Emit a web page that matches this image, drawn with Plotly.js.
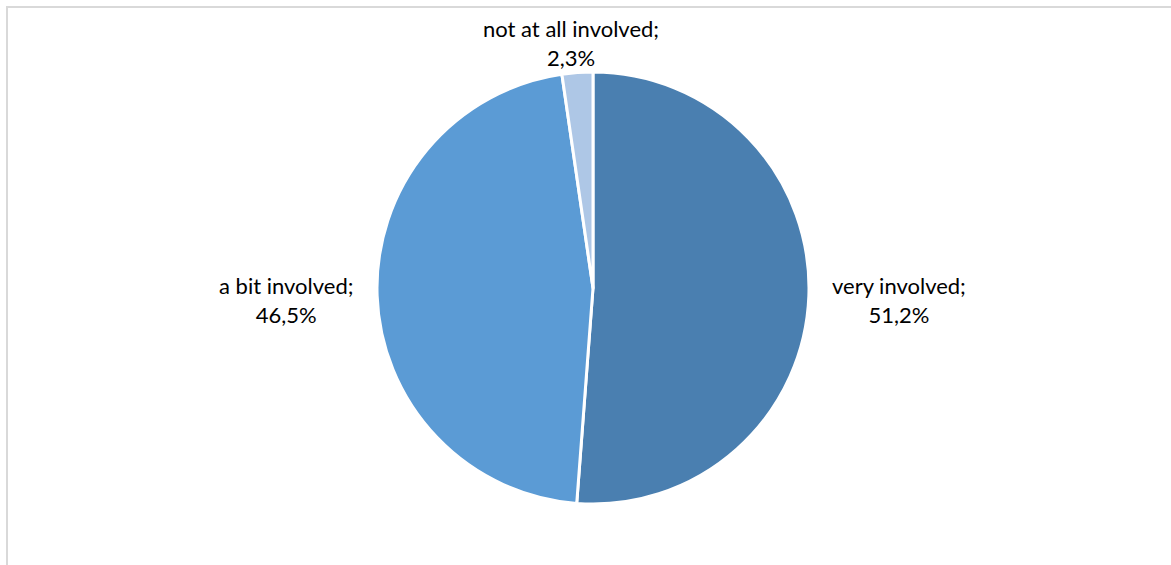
<!DOCTYPE html>
<html>
<head>
<meta charset="utf-8">
<script src="https://cdn.plot.ly/plotly-3.0.1.min.js"></script>
<style>
  html, body { margin: 0; padding: 0; background: #fff; }
  #frame { position: absolute; left: 6px; top: 6px; width: 1200px; height: 600px;
           border-left: 2px solid #d9d9d9; border-top: 2px solid #d9d9d9; }
  #chart { position: absolute; left: 0; top: 0; width: 1171px; height: 565px; }
</style>
</head>
<body>
<div id="frame"></div>
<div id="chart"></div>
<script>
const categories = ["very involved", "a bit involved", "not at all involved"];
const values = [51.2, 46.5, 2.3];
const valueLabels = ["51,2%", "46,5%", "2,3%"];
const colors = ["#4a7fb0", "#5b9bd5", "#aec7e6"];
// label anchor positions (paper fractions)
const labelX = [0.7677, 0.2442, 0.4876];
const labelY = [0.469, 0.469, 0.924];

const trace = {
  type: "pie",
  labels: categories,
  values: values,
  textinfo: "none",
  sort: false,
  direction: "clockwise",
  rotation: 0,
  marker: { colors: colors, line: { color: "#ffffff", width: 3 } },
  hoverinfo: "none",
  domain: { x: [0.0128, 1], y: [0.10796, 0.87257] }
};

const annotations = categories.map((c, i) => ({
  text: c + ";<br>" + valueLabels[i],
  x: labelX[i], y: labelY[i], xref: "paper", yref: "paper",
  xanchor: "center", yanchor: "middle", align: "center",
  showarrow: false,
  font: { family: "Lato, 'Open Sans', sans-serif", size: 22, color: "#000000" }
}));

const layout = {
  width: 1171,
  height: 565,
  margin: { l: 0, r: 0, t: 0, b: 0 },
  showlegend: false,
  annotations: annotations,
  paper_bgcolor: "rgba(0,0,0,0)",
  plot_bgcolor: "rgba(0,0,0,0)"
};

Plotly.newPlot("chart", [trace], layout, { displayModeBar: false, staticPlot: true });
</script>
</body>
</html>
